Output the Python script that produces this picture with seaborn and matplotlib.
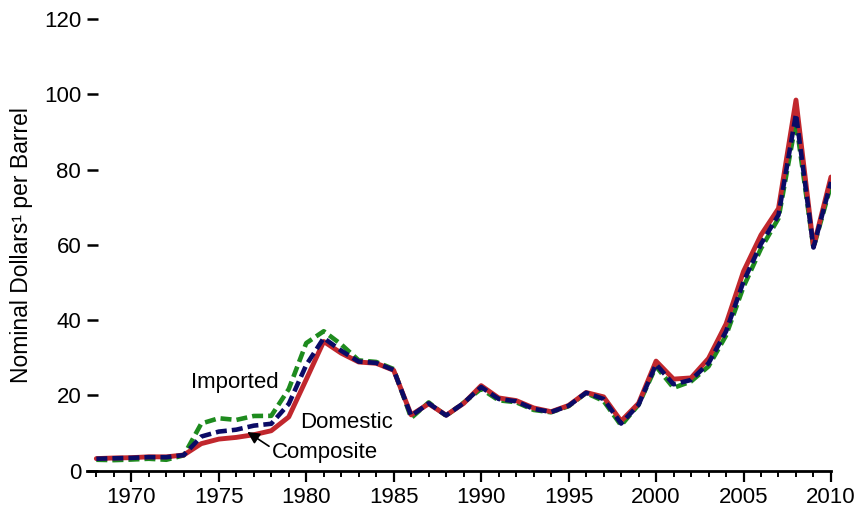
import numpy as np
import pandas as pd
import matplotlib
matplotlib.use("Agg")
import matplotlib.pyplot as plt
import seaborn as sns

# 原油炼厂购进成本 (名义美元/桶)
years = list(range(1968, 2011))
domestic = [3.21, 3.37, 3.46, 3.68, 3.67, 4.17, 7.18, 8.39, 8.84, 9.55,
            10.61, 14.27, 24.23, 34.33, 31.22, 28.87, 28.53, 26.66, 14.82, 17.76,
            14.74, 17.87, 22.59, 19.33, 18.63, 16.67, 15.67, 17.33, 20.77, 19.61,
            13.18, 17.90, 29.11, 24.33, 24.65, 29.82, 38.97, 52.94, 62.62, 69.65,
            98.47, 59.49, 78.01]
imported = [2.90, 2.80, 2.96, 3.17, 2.90, 4.08, 12.52, 13.93, 13.48, 14.53,
            14.57, 21.67, 33.89, 37.05, 33.55, 29.30, 28.88, 26.99, 14.00, 18.13,
            14.56, 18.08, 21.76, 18.70, 18.20, 16.14, 15.51, 17.14, 20.64, 18.53,
            12.04, 17.51, 27.70, 22.00, 23.71, 27.71, 35.90, 48.86, 59.02, 67.04,
            92.77, 59.17, 75.86]
composite = [3.17, 3.29, 3.40, 3.60, 3.58, 4.15, 9.07, 10.38, 10.89, 11.96,
             12.46, 17.72, 28.07, 35.24, 31.87, 28.99, 28.63, 26.75, 14.55, 17.90,
             14.67, 17.97, 22.22, 19.06, 18.43, 16.41, 15.59, 17.23, 20.71, 19.04,
             12.52, 17.51, 28.26, 22.95, 24.10, 28.53, 36.98, 50.24, 60.24, 67.94,
             94.74, 59.29, 76.69]

y_ticks = [0, 20, 40, 60, 80, 100, 120]
x_ticks = [1970, 1975, 1980, 1985, 1990, 1995, 2000, 2005, 2010]

df = pd.DataFrame({"year": years, "Domestic": domestic,
                   "Imported": imported, "Composite": composite})

sns.set_style("white")
plt.rcParams['font.family'] = ['Liberation Sans', 'DejaVu Sans']
plt.rcParams['font.size'] = 16
plt.rcParams['text.color'] = 'black'
plt.rcParams['axes.labelcolor'] = 'black'
plt.rcParams['xtick.color'] = 'black'
plt.rcParams['ytick.color'] = 'black'

fig = plt.figure(figsize=(8.62, 5.13), dpi=100)
ax = fig.add_axes([0.1006, 0.0825, 0.8634, 0.8805])

# 绘制顺序: 进口 -> 国内 -> 综合
sns.lineplot(data=df, x="year", y="Imported", ax=ax, color="#1E8B1E",
             linewidth=3.3)
ax.lines[-1].set_dashes((2.4, 1.1))
sns.lineplot(data=df, x="year", y="Domestic", ax=ax, color="#C1272D",
             linewidth=3.5)
sns.lineplot(data=df, x="year", y="Composite", ax=ax, color="#0B0B66",
             linewidth=3.3)
ax.lines[-1].set_dashes((2.4, 1.1))

ax.set_xlim(1967.45, 2010)
ax.set_ylim(0, 120)
ax.set_xticks(x_ticks)
ax.set_xticks(years, minor=True)
ax.set_yticks(y_ticks)
ax.set_xlabel("")
ax.set_ylabel("Nominal Dollars\u00b9 per Barrel", fontsize=16.5, labelpad=8)

for s in ["top", "right", "left"]:
    ax.spines[s].set_visible(False)
ax.spines["bottom"].set_linewidth(2)
ax.spines["bottom"].set_color("black")
ax.spines["bottom"].set_clip_on(False)

ax.tick_params(axis="x", which="major", direction="out", length=8, width=1.6,
               labelsize=16, pad=4, bottom=True)
ax.tick_params(axis="x", which="minor", direction="out", length=4.3, width=1.4,
               bottom=True)
ax.tick_params(axis="y", which="major", direction="in", length=8, width=1.8,
               labelsize=16, pad=4, left=True)
for t in ax.yaxis.get_major_ticks():
    t.tick1line.set_clip_on(False)

# 标注
ax.text(1975.94, 23.3, "Imported", ha="center", va="center", fontsize=16)
ax.text(1982.3, 12.7, "Domestic", ha="center", va="center", fontsize=16)
ax.annotate("Composite", xy=(1976.63, 10.3), xytext=(1978.06, 4.8),
            ha="left", va="center", fontsize=16,
            arrowprops=dict(arrowstyle="-|>", color="black", lw=1.2,
                            shrinkA=0, shrinkB=0, mutation_scale=18,
                            relpos=(0, 0.7)))

fig.savefig("out.png", dpi=100)
